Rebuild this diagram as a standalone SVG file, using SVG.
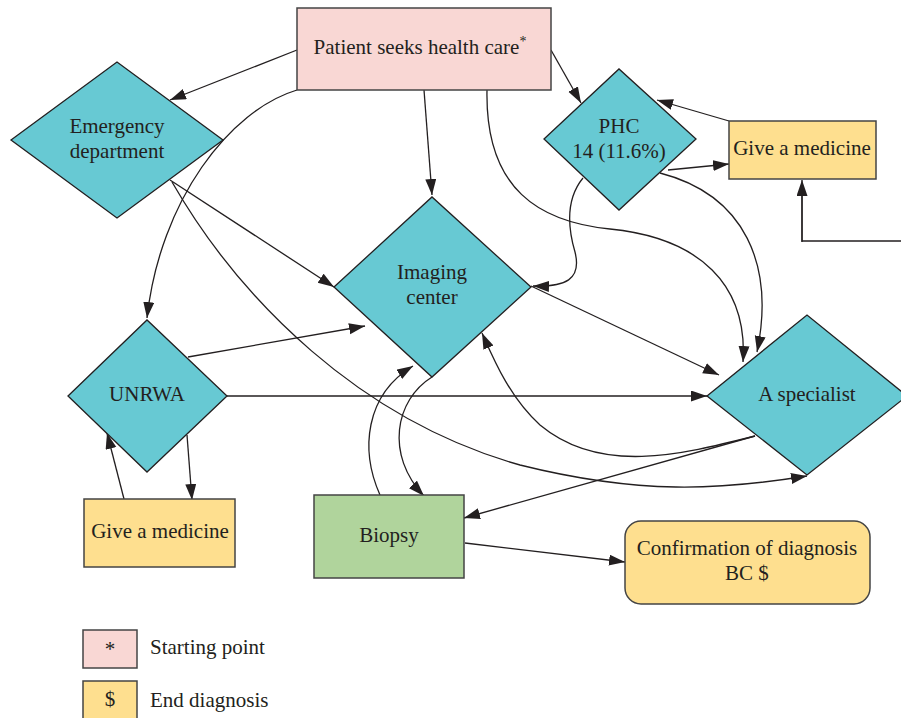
<svg xmlns="http://www.w3.org/2000/svg" width="901" height="718" viewBox="0 0 901 718">
<defs>
<marker id="ah" markerWidth="17" markerHeight="12" refX="16" refY="5.5" orient="auto" markerUnits="userSpaceOnUse">
<path d="M0,0 L16,5.5 L0,11 z" fill="#231f20"/>
</marker>
<style>
.dia{fill:#67c9d3;stroke:#231f20;stroke-width:1.3}
.pink{fill:#f9d7d4;stroke:#444;stroke-width:1.5}
.yel{fill:#fedf8f;stroke:#444;stroke-width:1.5}
.grn{fill:#b0d49c;stroke:#444;stroke-width:1.5}
.t{font-family:"Liberation Serif","Times New Roman",serif;font-size:21px;fill:#231f20;text-anchor:middle}
.tl{font-family:"Liberation Serif","Times New Roman",serif;font-size:21px;fill:#231f20;text-anchor:start}
.c{fill:none;stroke:#231f20;stroke-width:1.3;marker-end:url(#ah)}
.cn{fill:none;stroke:#231f20;stroke-width:1.3}
</style>
</defs>
<rect width="901" height="718" fill="#fff"/>

<g id="connectors">
<path class="c" d="M297,50 L170,100"/>
<path class="c" d="M297,90 C230,110 160,200 147,318"/>
<path class="c" d="M424,90 L432,195"/>
<path class="c" d="M551,50 L581,103"/>
<path class="c" d="M487,90 C485,190 540,222 610,229 C700,238 748,285 743,362"/>
<path class="c" d="M583,178 C565,200 568,228 575,252 C582,280 565,287 533,286"/>
<path class="c" d="M668,170 L729,164"/>
<path class="c" d="M729,121 L657,100"/>
<path class="cn" d="M901,241 L802,241 L802,195"/>
<path class="c" d="M802,242 L802,180"/>
<path class="c" d="M660,173 C745,195 775,265 757,352"/>
<path class="c" d="M170,180 L334,287"/>
<path class="c" d="M172,182 C240,300 360,420 520,465 C640,495 720,490 807,476"/>
<path class="c" d="M188,357 L365,326"/>
<path class="c" d="M227,396 L707,396"/>
<path class="c" d="M187,435 L192,500"/>
<path class="c" d="M124,499 L107,433"/>
<path class="c" d="M380,495 C360,450 365,395 413,366"/>
<path class="c" d="M432,377 C395,400 385,455 424,496"/>
<path class="c" d="M531,286 L719,375"/>
<path class="c" d="M755,436 C680,455 600,475 540,425 C510,398 494,360 482,333"/>
<path class="c" d="M755,436 L464,518"/>
<path class="c" d="M465,543 L625,562"/>
</g>

<g id="patient">
<rect class="pink" x="297" y="8" width="254" height="82"/>
<text class="t" x="420" y="54">Patient seeks health care<tspan font-size="14" dy="-8">*</tspan></text>
</g>

<g id="emergency">
<polygon class="dia" points="11,140 117,62 223,140 117,218"/>
<text class="t" x="117" y="133">Emergency</text>
<text class="t" x="117" y="158">department</text>
</g>

<g id="phc">
<polygon class="dia" points="544,139 619,69 696,139 619,210"/>
<text class="t" x="619" y="133">PHC</text>
<text class="t" x="619" y="158">14 (11.6%)</text>
</g>

<g id="medicine-right">
<rect class="yel" x="729" y="121" width="147" height="58"/>
<text class="t" x="802" y="155">Give a medicine</text>
</g>

<g id="imaging">
<polygon class="dia" points="334,287 432,197 531,287 432,377"/>
<text class="t" x="432" y="279">Imaging</text>
<text class="t" x="432" y="304">center</text>
</g>

<g id="unrwa">
<polygon class="dia" points="68,396 147,320 227,396 147,472"/>
<text class="t" x="147" y="401">UNRWA</text>
</g>

<g id="medicine-left">
<rect class="yel" x="84" y="499" width="151" height="68"/>
<text class="t" x="160" y="538">Give a medicine</text>
</g>

<g id="biopsy">
<rect class="grn" x="314" y="495" width="150" height="83"/>
<text class="t" x="389" y="542">Biopsy</text>
</g>

<g id="specialist">
<polygon class="dia" points="707,396 807,315 907,396 807,475"/>
<text class="t" x="807" y="401">A specialist</text>
</g>

<g id="confirmation">
<rect class="yel" x="625" y="521" width="245" height="83" rx="16" ry="16"/>
<text class="t" x="747" y="555">Confirmation of diagnosis</text>
<text class="t" x="747" y="580">BC $</text>
</g>

<g id="legend">
<rect class="pink" x="83" y="630" width="54" height="38"/>
<text class="t" x="110" y="656" font-size="18">*</text>
<text class="tl" x="150" y="654">Starting point</text>
<rect class="yel" x="83" y="681" width="54" height="40"/>
<text class="t" x="110" y="706">$</text>
<text class="tl" x="150" y="707">End diagnosis</text>
</g>
</svg>
